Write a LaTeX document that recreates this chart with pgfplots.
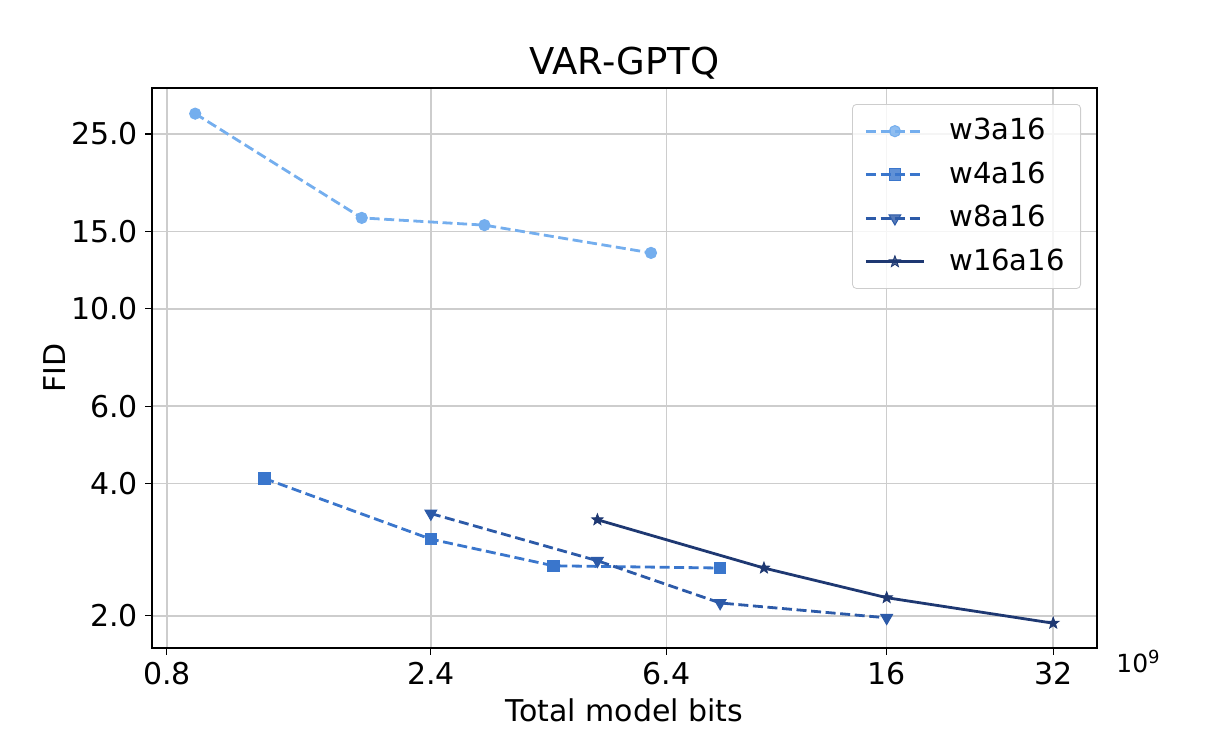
\documentclass[border=0pt]{standalone}
\usepackage{fontspec}
\setmainfont{DejaVu Sans}
\usepackage{pgfplots}
\pgfplotsset{compat=1.18}

\definecolor{cwA}{RGB}{116,174,238}
\definecolor{cwB}{RGB}{58,118,204}
\definecolor{cwC}{RGB}{44,90,168}
\definecolor{cwD}{RGB}{30,56,114}
\definecolor{gridgray}{RGB}{205,205,205}

% filled five-point star, like matplotlib's '*'
\pgfdeclareplotmark{fstar}{%
  \pgfpathmoveto{\pgfpointpolar{90}{\pgfplotmarksize}}%
  \pgfpathlineto{\pgfpointpolar{126}{0.42\pgfplotmarksize}}%
  \pgfpathlineto{\pgfpointpolar{162}{\pgfplotmarksize}}%
  \pgfpathlineto{\pgfpointpolar{198}{0.42\pgfplotmarksize}}%
  \pgfpathlineto{\pgfpointpolar{234}{\pgfplotmarksize}}%
  \pgfpathlineto{\pgfpointpolar{270}{0.42\pgfplotmarksize}}%
  \pgfpathlineto{\pgfpointpolar{306}{\pgfplotmarksize}}%
  \pgfpathlineto{\pgfpointpolar{342}{0.42\pgfplotmarksize}}%
  \pgfpathlineto{\pgfpointpolar{18}{\pgfplotmarksize}}%
  \pgfpathlineto{\pgfpointpolar{54}{0.42\pgfplotmarksize}}%
  \pgfpathclose
  \pgfusepathqfillstroke
}

\begin{document}
\begin{tikzpicture}
\begin{axis}[
    at={(0,0)}, anchor=south west,
    scale only axis,
    width=472.5pt, height=280pt,
    xmode=log, ymode=log,
    xmin=0.752, xmax=38.4,
    ymin=1.69, ymax=31.8,
    xtick={0.8,2.4,6.4,16,32},
    xticklabels={0.8,2.4,6.4,16,32},
    ytick={2,4,6,10,15,25},
    yticklabels={2.0,4.0,6.0,10.0,15.0,25.0},
    minor xtick={}, minor ytick={},
    xtick pos=bottom, ytick pos=left,
    tick align=outside,
    major tick length=3.5pt,
    tick style={black, line width=0.6pt},
    axis line style={line width=0.6pt},
    grid=major,
    major grid style={draw=gridgray, line width=0.8pt},
    /pgf/number format/assume math mode=true,
    ticklabel style={font=\fontsize{15}{18}\selectfont},
    title={VAR-GPTQ},
    title style={font=\fontsize{18.5}{22}\selectfont, yshift=-5pt},
    xlabel={Total model bits},
    ylabel={FID},
    label style={font=\fontsize{15}{18}\selectfont},
    ylabel style={xshift=0pt, yshift=-4pt},
    legend cell align=left,
    legend style={
      at={(1,1)}, anchor=north east,
      xshift=-8pt, yshift=-8pt,
      draw=gridgray, rounded corners=2pt,
      fill=white, fill opacity=0.8, text opacity=1,
      font=\fontsize{14.5}{17}\selectfont,
      row sep=5pt, column sep=10pt,
      inner xsep=6pt, inner ysep=5pt,
      nodes={inner sep=2pt, text depth=0.2em},
    },
    legend image code/.code={%
      \draw[mark repeat=2, mark phase=2, #1]
        plot coordinates {(0pt,0pt) (14.5pt,0pt) (29pt,0pt)};},
]

  % w3a16
  \addplot[cwA, line width=1.4pt, dash pattern=on 5pt off 2.3pt,
    mark=*, mark size=2.8pt, mark options={solid, fill=cwA, line width=0.5pt}]
    coordinates {(0.9,27.8) (1.8,16.1) (3.0,15.5) (6.0,13.4)};

  % w4a16
  \addplot[cwB, line width=1.4pt, dash pattern=on 5pt off 2.3pt,
    mark=square*, mark size=2.9pt, mark options={solid, fill=cwB, line width=0.5pt}]
    coordinates {(1.2,4.11) (2.4,2.99) (4.0,2.60) (8.0,2.57)};

  % w8a16
  \addplot[cwC, line width=1.4pt, dash pattern=on 5pt off 2.3pt,
    mark=triangle*, mark size=3.4pt, mark options={solid, fill=cwC, rotate=180, line width=0.5pt}]
    coordinates {(2.4,3.42) (4.8,2.67) (8.0,2.14) (16,1.98)};

  % w16a16
  \addplot[cwD, line width=1.4pt,
    mark=fstar, mark size=3pt, mark options={solid, fill=cwD, line width=0.4pt}]
    coordinates {(4.8,3.31) (9.6,2.57) (16,2.20) (32,1.925)};

  \legend{w3a16,w4a16,w8a16,w16a16}
\end{axis}

% offset text of x axis
\node[anchor=north west, inner sep=0pt, font=\fontsize{12.5}{15}\selectfont]
  at (482pt,-1pt) {10\raisebox{0.35em}{\fontsize{9}{11}\selectfont 9}};

% page size
\path (-76pt,-41pt) rectangle (533pt,324pt);
\end{tikzpicture}
\end{document}
